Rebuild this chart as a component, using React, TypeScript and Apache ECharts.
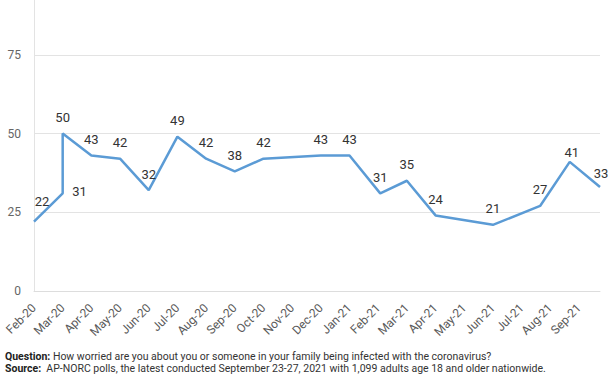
import React, { useEffect, useRef } from "react";
import * as echarts from "echarts";

const pollDates = [
  "2020-02-01", "2020-03-01", "2020-03-01", "2020-04-01", "2020-05-01",
  "2020-06-01", "2020-07-01", "2020-08-01", "2020-09-01", "2020-10-01",
  "2020-12-01", "2021-01-01", "2021-02-03", "2021-03-01", "2021-04-01",
  "2021-06-01", "2021-07-21", "2021-08-22", "2021-09-23",
];
const worried = [22, 31, 50, 43, 42, 32, 49, 42, 38, 42, 43, 43, 31, 35, 24, 21, 27, 41, 33];
const monthNames = ["Jan", "Feb", "Mar", "Apr", "May", "Jun", "Jul", "Aug", "Sep", "Oct", "Nov", "Dec"];
const yTicks = [0, 25, 50, 75, 100];
const questionText = "How worried are you about you or someone in your family being infected with the coronavirus?";
const sourceText = " AP-NORC polls, the latest conducted September 23-27, 2021 with 1,099 adults age 18 and older nationwide.";

const START_YEAR = 2020;
const START_MONTH = 2;
const SHIFT = 24;

function toMonthIndex(d: string): number {
  const [y, m, day] = d.split("-").map(Number);
  const dim = new Date(y, m, 0).getDate();
  return (y - START_YEAR) * 12 + (m - START_MONTH) + (day - 1) / dim;
}

function monthLabel(idx: number): string {
  if (Math.abs(idx - Math.round(idx)) > 1e-6) return "";
  const total = Math.round(idx) + (START_MONTH - 1);
  const y = START_YEAR + Math.floor(total / 12);
  const m = total % 12;
  return monthNames[m] + "-" + String(y).slice(2);
}

export default function App() {
  const ref = useRef<HTMLDivElement>(null);
  useEffect(() => {
    if (!ref.current) return;
    const chart = echarts.init(ref.current, null, { renderer: "svg" });
    const xs = pollDates.map(toMonthIndex);
    const data = xs.map((x, i) => {
      const item: any = { value: [x, worried[i]] };
      if (i === 0) item.label = { offset: [8, -4] };
      if (i === 1) item.label = { position: "right", distance: 9, offset: [0, -2] };
      if (i === 17) item.label = { offset: [2, 7] };
      if (i === 18) item.label = { offset: [1, 2] };
      return item;
    });
    const footRich = { b: { fontWeight: "bold", fontSize: 10.5, fontFamily: "Roboto", fill: "#222222", lineHeight: 12 } };
    chart.setOption({
      animation: false,
      backgroundColor: "#ffffff",
      grid: { left: 34, right: 12, top: 0, bottom: 83, containLabel: false },
      xAxis: {
        type: "value",
        min: 0,
        max: xs[xs.length - 1],
        interval: 1,
        axisLine: { show: true, lineStyle: { color: "#dddddd", width: 1 } },
        axisTick: { show: false },
        splitLine: { show: false },
        axisLabel: {
          rotate: 45,
          margin: 15,
          fontFamily: "Roboto",
          fontSize: 12,
          color: "#5a5a5a",
          showMaxLabel: false,
          formatter: (v: number) => monthLabel(v),
        },
      },
      yAxis: {
        type: "value",
        min: yTicks[0],
        max: yTicks[yTicks.length - 1],
        interval: 25,
        axisLine: { show: true, lineStyle: { color: "#e3e3e3", width: 1 } },
        axisTick: { show: false },
        splitLine: { show: true, lineStyle: { color: "#e3e3e3", width: 1 } },
        axisLabel: {
          margin: 13,
          fontFamily: "Roboto",
          fontSize: 12,
          color: "#666666",
          showMaxLabel: false,
          formatter: (v: number) => (v >= yTicks[yTicks.length - 1] ? "" : String(v)),
        },
      },
      series: [
        {
          type: "line",
          data,
          symbol: "circle",
          symbolSize: 1,
          showSymbol: true,
          itemStyle: { color: "#5b9bd5", opacity: 0 },
          lineStyle: { color: "#5b9bd5", width: 2.5, opacity: 1 },
          label: {
            show: true,
            position: "top",
            distance: 9,
            fontFamily: "Roboto",
            fontSize: 13,
            color: "#333333",
            opacity: 1,
            formatter: (p: any) => String(p.value[1]),
          },
        },
      ],
      graphic: [
        {
          type: "text",
          left: 5,
          top: 350 + SHIFT,
          style: {
            text: "{b|Question:} " + questionText,
            font: "10.5px Roboto",
            lineHeight: 12,
            fill: "#333333",
            rich: footRich,
          },
        },
        {
          type: "text",
          left: 5,
          top: 362 + SHIFT,
          style: {
            text: "{b|Source:} " + sourceText,
            font: "10.5px Roboto",
            lineHeight: 12,
            fill: "#333333",
            rich: footRich,
          },
        },
      ],
    });
    return () => chart.dispose();
  }, []);
  return (
    <div style={{ width: 612, height: 374, position: "absolute", left: 0, top: 0, overflow: "hidden", background: "#fff" }}>
      <div ref={ref} style={{ width: 612, height: 374 + SHIFT, position: "absolute", left: 0, top: -SHIFT }} />
    </div>
  );
}
